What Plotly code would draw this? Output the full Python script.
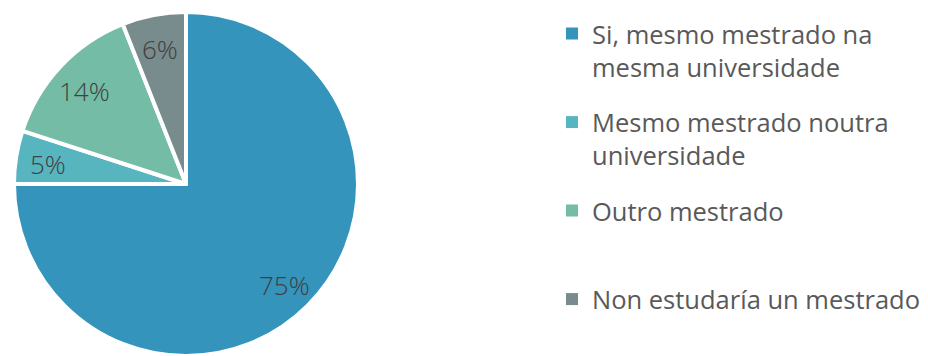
import math
import plotly.graph_objects as go

# Survey answers and their shares (%)
categories = [
    "Si, mesmo mestrado na mesma universidade",
    "Mesmo mestrado noutra universidade",
    "Outro mestrado",
    "Non estudaría un mestrado",
]
shares = [75, 5, 14, 6]
slice_colors = ["#3594BB", "#57B5C0", "#75BCA6", "#788B8D"]

# Legend text, wrapped the way it is drawn next to the pie
legend_labels = [
    "Si, mesmo mestrado na<br>mesma universidade",
    "Mesmo mestrado noutra<br>universidade",
    "Outro mestrado",
    "Non estudaría un mestrado",
]

W, H = 928, 356
TOP = 12
R = (H - TOP) / 2          # pie radius in px
CX, CY = 186, TOP + R      # pie centre in px
LABEL_R = 0.81 * R         # where the percentage labels sit
LABEL_DY = 2               # small downward nudge so digits look centred

fig = go.Figure()

fig.add_trace(
    go.Pie(
        labels=categories,
        values=shares,
        sort=False,
        direction="clockwise",
        rotation=0,
        marker=dict(colors=slice_colors, line=dict(color="white", width=4)),
        textinfo="none",
        hovertemplate="%{label}: %{value}%<extra></extra>",
        showlegend=False,
        domain=dict(x=[(CX - R) / W, (CX + R) / W], y=[0, (H - TOP) / H]),
    )
)

# Percentage labels along each slice's middle angle
total = sum(shares)
cum = 0
annotations = []
for v in shares:
    theta = 2 * math.pi * (cum + v / 2) / total
    cum += v
    px = CX + LABEL_R * math.sin(theta)
    py = CY - LABEL_R * math.cos(theta) + LABEL_DY
    annotations.append(
        dict(
            x=px / W, y=1 - py / H, xref="paper", yref="paper",
            text=f"{round(100 * v / total)}%", showarrow=False,
            xanchor="center", yanchor="middle",
            font=dict(family="Open Sans", size=26, color="#404040", weight=300),
        )
    )

# One legend per answer, spaced evenly down the right-hand side
LEG_X = 552
LEG_FIRST_TOP = 10.5
LEG_STEP = 88.5
legend_layouts = {}
for i, (name, col) in enumerate(zip(legend_labels, slice_colors)):
    key = "legend" if i == 0 else f"legend{i + 1}"
    fig.add_trace(
        go.Scatter(
            x=[None], y=[None], mode="markers", name=name,
            marker=dict(symbol="square", size=12, color=col, line=dict(width=0)),
            legend=key, showlegend=True, hoverinfo="skip",
        )
    )
    legend_layouts[key] = dict(
        x=LEG_X / W, xanchor="left",
        y=1 - (LEG_FIRST_TOP + i * LEG_STEP) / H, yanchor="top",
        valign="top",
        font=dict(family="Open Sans", size=25.5, color="#595959"),
        bgcolor="rgba(0,0,0,0)",
    )

fig.update_layout(
    width=W,
    height=H,
    margin=dict(l=0, r=0, t=0, b=0, autoexpand=False),
    paper_bgcolor="white",
    plot_bgcolor="white",
    xaxis=dict(visible=False),
    yaxis=dict(visible=False),
    annotations=annotations,
    **legend_layouts,
)

fig.write_html("out.html")
